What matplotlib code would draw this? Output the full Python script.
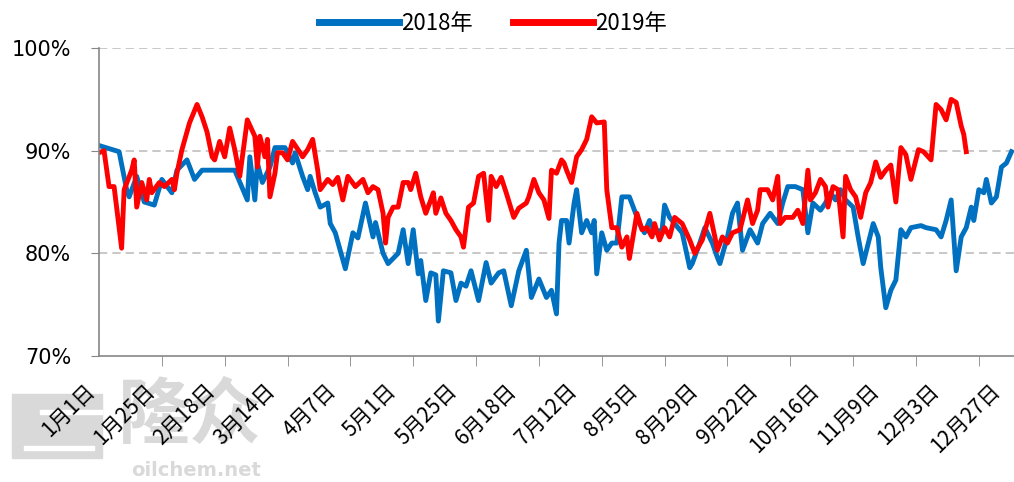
import matplotlib.pyplot as plt
from matplotlib.patches import Rectangle

plt.rcParams['font.family'] = ['Noto Sans CJK SC', 'DejaVu Sans']

# day offset from Jan 1, and the rate (%)
days_2018 = [0, 8, 11, 12, 15, 18, 22, 25, 29, 31,
             35, 38, 41, 54, 59, 60, 62, 63, 65, 68,
             70, 74, 77, 78, 81, 83, 84, 86, 88, 91,
             92, 94, 98, 101, 103, 106, 109, 110, 113, 115,
             119, 121, 123, 125, 127, 128, 130, 132, 134, 135,
             137, 140, 142, 144, 146, 148, 151, 154, 156, 159,
             161, 164, 167, 170, 172, 175, 178, 180, 182, 183,
             184, 186, 187, 189, 190, 192, 194, 196, 197, 198,
             200, 202, 204, 206, 208, 211, 213, 215, 217, 219,
             221, 224, 225, 227, 229, 232, 235, 236, 239, 241,
             244, 246, 247, 250, 252, 254, 256, 259, 262, 264,
             267, 270, 272, 274, 277, 280, 282, 284, 287, 289,
             291, 293, 295, 297, 300, 302, 304, 308, 310, 311,
             313, 315, 317, 319, 321, 323, 327, 329, 333, 335,
             337, 339, 341, 343, 345, 347, 348, 350, 352, 353,
             355, 357, 359, 361, 363]
rate_2018 = [90.5, 89.9, 86.2, 85.5, 87.5, 85.0, 84.7, 87.2, 85.9, 88.1,
             89.1, 87.2, 88.1, 88.1, 85.2, 89.4, 85.2, 88.8, 86.9, 88.4,
             90.3, 90.3, 88.8, 89.8, 87.5, 86.2, 87.5, 85.9, 84.5, 84.9,
             82.9, 82.0, 78.5, 82.0, 81.5, 84.9, 81.6, 83.0, 80.0, 79.0,
             80.0, 82.3, 79.0, 82.3, 78.0, 79.3, 75.4, 78.1, 77.9, 73.4,
             78.3, 78.1, 75.4, 77.1, 76.8, 78.3, 75.4, 79.1, 77.1, 78.1,
             78.3, 74.9, 78.3, 80.3, 75.7, 77.5, 75.7, 76.4, 74.1, 81.0,
             83.2, 83.2, 81.0, 84.9, 86.2, 82.0, 83.2, 82.0, 83.2, 78.0,
             82.0, 80.3, 81.0, 81.0, 85.5, 85.5, 84.2, 82.9, 82.0, 83.2,
             82.0, 82.3, 84.7, 83.5, 82.9, 82.0, 78.6, 79.0, 81.0, 82.5,
             81.0, 79.6, 79.0, 81.6, 83.9, 84.9, 80.3, 82.3, 81.0, 82.9,
             83.9, 82.9, 84.9, 86.5, 86.5, 86.2, 82.0, 84.9, 84.2, 84.9,
             85.9, 85.2, 86.2, 85.2, 84.5, 81.6, 79.0, 82.9, 81.6, 78.6,
             74.7, 76.4, 77.4, 82.3, 81.6, 82.5, 82.7, 82.5, 82.3, 81.6,
             83.2, 85.2, 78.3, 81.6, 82.5, 84.5, 83.2, 86.2, 85.9, 87.2,
             84.9, 85.5, 88.4, 88.8, 89.9]

days_2019 = [0, 2, 4, 6, 9, 10, 13, 14, 15, 17,
             19, 20, 21, 24, 26, 29, 30, 31, 33, 36,
             39, 41, 43, 45, 46, 48, 50, 52, 54, 56,
             59, 62, 63, 64, 66, 67, 68, 70, 71, 73,
             75, 77, 80, 81, 83, 85, 87, 88, 91, 93,
             95, 97, 99, 102, 105, 107, 109, 111, 113, 114,
             115, 117, 119, 121, 123, 124, 126, 128, 130, 132,
             133, 134, 136, 138, 140, 142, 144, 145, 147, 149,
             151, 153, 155, 156, 158, 160, 162, 165, 167, 170,
             171, 173, 175, 177, 179, 180, 182, 184, 185, 186,
             188, 190, 192, 194, 196, 198, 201, 202, 204, 206,
             208, 210, 211, 214, 216, 218, 220, 221, 223, 225,
             227, 229, 232, 235, 237, 240, 243, 245, 246, 248,
             250, 252, 255, 258, 260, 262, 263, 266, 268, 270,
             271, 273, 276, 278, 280, 282, 283, 285, 287, 289,
             290, 292, 294, 296, 297, 299, 301, 303, 305, 307,
             309, 311, 313, 315, 317, 319, 321, 323, 326, 328,
             331, 333, 335, 337, 339, 341, 343, 344, 345]
rate_2019 = [89.8, 90.0, 86.5, 86.5, 80.5, 86.2, 88.1, 89.1, 84.5, 86.9,
             85.2, 87.2, 85.9, 86.9, 86.5, 87.2, 86.2, 87.8, 90.1, 92.7,
             94.5, 93.3, 91.8, 89.4, 89.1, 90.9, 89.4, 92.2, 90.1, 87.5,
             93.0, 91.4, 88.4, 91.4, 89.4, 91.1, 85.5, 87.8, 89.8, 89.8,
             89.1, 90.9, 89.8, 89.4, 90.1, 91.1, 88.1, 86.2, 87.2, 86.7,
             87.4, 85.2, 87.5, 86.5, 87.2, 85.9, 86.5, 86.2, 83.9, 81.0,
             83.5, 84.5, 84.5, 86.9, 86.9, 86.2, 87.8, 85.5, 83.9, 85.2,
             85.9, 83.9, 85.4, 83.9, 83.2, 82.3, 81.6, 80.6, 84.5, 84.9,
             87.5, 87.8, 83.2, 87.5, 86.5, 87.4, 85.9, 83.5, 84.4, 84.9,
             85.5, 87.2, 85.9, 85.2, 83.4, 88.1, 87.8, 89.1, 88.8, 88.1,
             86.9, 89.4, 90.1, 91.1, 93.3, 92.7, 92.8, 86.2, 82.5, 82.5,
             80.6, 81.6, 79.5, 83.9, 82.3, 82.5, 81.6, 82.9, 81.3, 82.5,
             81.6, 83.5, 82.9, 81.3, 80.0, 81.3, 83.9, 81.6, 80.3, 81.6,
             81.0, 82.0, 82.3, 85.2, 82.9, 84.2, 86.2, 86.2, 85.2, 87.5,
             82.9, 83.5, 83.5, 84.2, 82.9, 88.1, 85.2, 85.9, 87.2, 86.5,
             84.5, 86.5, 86.2, 81.6, 87.5, 86.2, 85.5, 83.5, 85.9, 86.9,
             88.9, 87.4, 88.1, 88.6, 85.0, 90.3, 89.6, 87.2, 90.1, 89.9,
             89.1, 94.5, 94.0, 93.0, 95.0, 94.7, 92.4, 91.6, 89.9]

label_days = [0, 24, 48, 72, 96, 120, 144, 168, 192, 216, 240, 264, 288, 312, 336, 360]
date_labels = ['1月1日', '1月25日', '2月18日', '3月14日', '4月7日', '5月1日', '5月25日', '6月18日',
               '7月12日', '8月5日', '8月29日', '9月22日', '10月16日', '11月9日', '12月3日', '12月27日']
mark_days = list(range(0, 351, 25))
y_ticks = [70, 80, 90, 100]

fig = plt.figure(figsize=(10.14, 4.82), dpi=100)

# faint watermark behind the axis labels
wm = '#d9d9d9'
fig.patches.append(Rectangle((12 / 1014, 1 - 458 / 482), 90 / 1014, 64 / 482,
                             transform=fig.transFigure, color=wm, zorder=-2))
fig.patches.append(Rectangle((40 / 1014, 1 - 414 / 482), 62 / 1014, 4 / 482,
                             transform=fig.transFigure, color='white', zorder=-2))
fig.patches.append(Rectangle((24 / 1014, 1 - 450 / 482), 70 / 1014, 4 / 482,
                             transform=fig.transFigure, color='white', zorder=-2))
fig.text(190 / 1014, 1 - 416 / 482, '隆众', fontsize=52, fontweight='bold', color=wm,
         ha='center', va='center', zorder=-2)
fig.text(196 / 1014, 1 - 470 / 482, 'oilchem.net', fontsize=14, fontweight='bold', color=wm,
         ha='center', va='center', family='DejaVu Sans', zorder=-2)

ax = fig.add_axes([99 / 1014, 1 - 356 / 482, 915 / 1014, 308 / 482])
ax.set_facecolor('none')

ax.plot(days_2018, rate_2018, color='#0070C0', lw=3.5, label='2018年', solid_joinstyle='round')
ax.plot(days_2019, rate_2019, color='#FF0000', lw=3.5, label='2019年', solid_joinstyle='round')

ax.set_xlim(0, 364)
ax.set_ylim(70, 100)

ax.set_yticks(y_ticks)
ax.set_yticklabels([f'{v}%' for v in y_ticks], family='DejaVu Sans', fontsize=15)
ax.tick_params(axis='y', direction='out', length=6, color='#868686', pad=14)

ax.set_xticks(label_days)
ax.set_xticklabels(date_labels, rotation=45, ha='right', va='top', fontsize=15)
ax.tick_params(axis='x', which='major', length=0, pad=17)
ax.set_xticks(mark_days, minor=True)
ax.tick_params(axis='x', which='minor', direction='out', length=7, color='#868686')

for v in y_ticks[1:]:
    ax.axhline(v, color='#BFBFBF', lw=1.2, ls=(0, (5, 3)), zorder=0)

for s in ['top', 'right']:
    ax.spines[s].set_visible(False)
for s in ['left', 'bottom']:
    ax.spines[s].set_color('#868686')
    ax.spines[s].set_linewidth(1.2)

leg = fig.legend(loc='center', bbox_to_anchor=(493 / 1014, 1 - 23 / 482), ncol=2, frameon=False,
                 fontsize=16, handlelength=3.6, handletextpad=0.1, columnspacing=1.8)
for h in leg.get_lines():
    h.set_linewidth(5)

fig.savefig('out.png', dpi=100)
